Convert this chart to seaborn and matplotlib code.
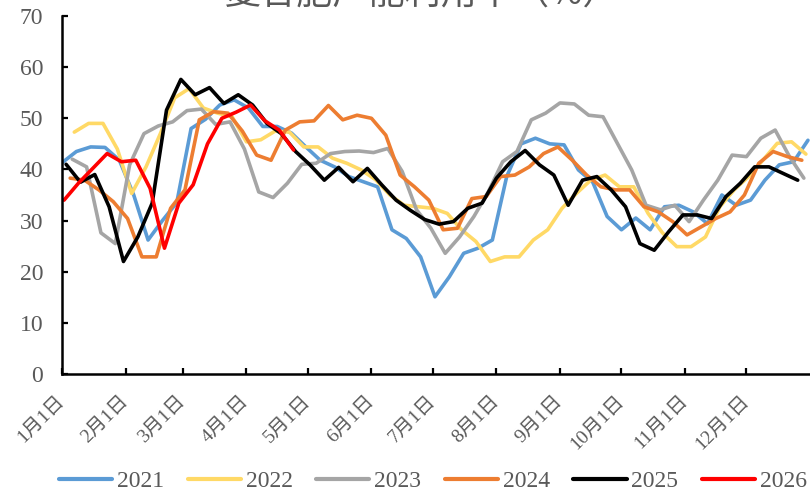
import matplotlib
matplotlib.use("Agg")
import matplotlib.pyplot as plt
import pandas as pd
import seaborn as sns

# ---------------- data ----------------
years = ["2021", "2022", "2023", "2024", "2025", "2026"]
# day-of-year of the first weekly observation of each year
start_days = [0, 6, 5, 4, 2, 1]

v2021 = [41.3, 43.5, 44.4, 44.3, 41.8, 35.0, 26.2, 30.0, 33.5, 48.0,
         49.8, 52.6, 53.6, 52.0, 48.4, 48.4, 47.1, 44.4, 41.8, 40.5,
         38.6, 37.6, 36.6, 28.2, 26.5, 22.9, 15.1, 19.0, 23.6, 24.6,
         26.2, 38.6, 45.0, 46.1, 45.0, 44.8, 39.9, 37.5, 30.8, 28.2,
         30.5, 28.2, 32.7, 33.0, 31.7, 29.4, 35.0, 33.0, 34.0, 37.9,
         40.9, 41.5, 45.7]
v2022 = [47.3, 49.0, 49.0, 44.0, 35.3, 40.5, 47.0, 54.0, 55.8, 52.0,
         51.0, 50.3, 45.4, 45.8, 47.5, 47.3, 44.4, 44.4, 42.2, 41.2,
         39.9, 38.0, 35.0, 33.0, 32.7, 32.4, 31.4, 28.2, 25.9, 22.0,
         22.9, 22.9, 26.2, 28.2, 32.4, 35.3, 37.9, 38.9, 36.6, 36.6,
         31.4, 27.6, 24.9, 24.9, 26.8, 32.7, 36.0, 38.6, 41.8, 45.1,
         45.4, 43.0]
v2023 = [42.0, 40.5, 27.6, 25.5, 40.9, 47.0, 48.5, 49.3, 51.5, 51.8,
         48.8, 49.3, 44.0, 35.6, 34.5, 37.3, 41.0, 41.2, 43.1, 43.5,
         43.6, 43.3, 44.1, 39.6, 32.1, 28.5, 23.6, 26.8, 30.8, 35.6,
         41.5, 43.5, 49.7, 51.0, 53.0, 52.8, 50.6, 50.3, 45.1, 39.9,
         33.0, 32.1, 33.0, 29.8, 34.0, 37.9, 42.8, 42.5, 46.1, 47.7,
         42.5, 38.3]
v2024 = [38.3, 37.9, 36.0, 33.7, 30.4, 22.9, 22.9, 32.4, 36.0, 49.7,
         51.3, 51.0, 47.5, 42.8, 41.8, 47.7, 49.3, 49.5, 52.5, 49.7,
         50.6, 50.0, 46.7, 38.9, 36.6, 34.0, 28.2, 28.5, 34.3, 34.7,
         38.6, 38.9, 40.5, 43.1, 44.4, 41.8, 38.9, 36.6, 36.0, 36.0,
         32.7, 31.7, 29.8, 27.2, 28.8, 30.4, 31.7, 35.0, 41.2, 43.5,
         42.5, 41.8]
v2025 = [41.0, 37.5, 39.0, 32.7, 22.0, 26.8, 33.4, 51.6, 57.6, 54.6,
         56.0, 52.9, 54.6, 52.6, 49.0, 47.0, 43.5, 40.9, 37.9, 40.4,
         37.6, 40.2, 37.0, 34.0, 32.0, 30.2, 29.3, 29.8, 32.4, 33.4,
         38.3, 41.5, 43.7, 40.9, 38.9, 33.0, 37.9, 38.6, 36.0, 32.7,
         25.5, 24.2, 27.8, 31.1, 31.1, 30.4, 34.7, 37.3, 40.5, 40.5,
         39.2, 37.9]
v2026 = [34.0, 37.3, 40.2, 43.1, 41.5, 41.8, 36.3, 24.6, 33.4, 37.0,
         45.0, 50.0, 51.2, 52.6, 49.5, 47.7, 43.8]

month_days = [0, 31, 59, 90, 120, 151, 181, 212, 243, 273, 304, 334]
month_labels = ["1月1日", "2月1日", "3月1日", "4月1日", "5月1日", "6月1日",
                "7月1日", "8月1日", "9月1日", "10月1日", "11月1日", "12月1日"]
y_ticks = [0, 10, 20, 30, 40, 50, 60, 70]

title = "复合肥产能利用率（%）"

colors = ["#5B9BD5", "#FFD966", "#A5A5A5", "#ED7D31", "#000000", "#FF0000"]

series = [v2021, v2022, v2023, v2024, v2025, v2026]
rows = []
for yr, s, vals in zip(years, start_days, series):
    for k, v in enumerate(vals):
        rows.append((yr, s + 7 * k, v))
df = pd.DataFrame(rows, columns=["year", "day", "value"])

# ---------------- style ----------------
sns.set_theme(style="white")
plt.rcParams["font.family"] = ["Liberation Serif", "Noto Sans CJK SC", "DejaVu Sans"]

W, H = 810, 491
fig = plt.figure(figsize=(W / 100, H / 100), dpi=100)
ax = fig.add_axes([62 / W, (H - 374) / H, (W - 62) / W, (374 - 16) / H])

sns.lineplot(data=df, x="day", y="value", hue="year", hue_order=years,
             palette=colors, linewidth=2.6, estimator=None, sort=True,
             ax=ax, legend=False)

ax.set_xlim(0, 365)
ax.set_ylim(0, 70)
ax.set_xlabel("")
ax.set_ylabel("")

for side in ["top", "right"]:
    ax.spines[side].set_visible(False)
for side in ["left", "bottom"]:
    ax.spines[side].set_color("black")
    ax.spines[side].set_linewidth(1.8)

grey = "#595959"
ax.set_yticks(y_ticks)
ax.set_yticklabels([str(t) for t in y_ticks])
ax.set_xticks(month_days)
ax.set_xticklabels(month_labels, rotation=45, ha="right", va="center",
                   rotation_mode="anchor")
ax.tick_params(axis="y", direction="in", length=4.5, width=1.6, color="black",
               labelsize=17, labelcolor=grey, pad=13.5, left=True)
ax.tick_params(axis="x", direction="in", length=4.5, width=1.6, color="black",
               labelsize=14, labelcolor=grey, pad=17.5, bottom=True)
for lab in ax.get_xticklabels():
    lab.set_family(["Liberation Serif", "Noto Sans CJK SC"])

# legend
from matplotlib.lines import Line2D
handles = [Line2D([0], [0], color=c, lw=3.0, solid_capstyle="round") for c in colors]
leg = fig.legend(handles, years, loc="center", bbox_to_anchor=(433 / W, 10 / H),
                 ncol=6, frameon=False, fontsize=17, handlelength=2.25,
                 handletextpad=0.2, columnspacing=1.0, borderaxespad=0)
for t in leg.get_texts():
    t.set_color(grey)

# title (mostly above the canvas, as in the reference)
fig.text(422 / W, 1 - 4.5 / H, title, ha="center", va="baseline", fontsize=26,
         color=grey, fontweight="light", family=["Noto Sans CJK SC", "DejaVu Sans"])

fig.savefig("out.png", dpi=100)
